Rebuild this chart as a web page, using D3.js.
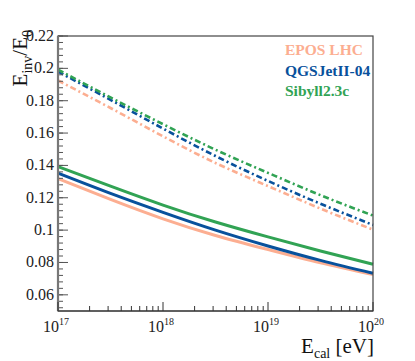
<!DOCTYPE html>
<html>
<head>
<meta charset="utf-8">
<script src="https://cdn.jsdelivr.net/npm/d3@7"></script>
<style>
  body { margin: 0; background: #fff; }
  svg text { font-family: "Liberation Serif", "DejaVu Serif", serif; }
</style>
</head>
<body>
<div id="chart"></div>
<script>
// log10(E_cal / eV) sample points
const logE = [17, 17.5, 18, 18.5, 19, 19.5, 20];

// E_inv/E_0, solid curves
const eposSolid    = [0.1318, 0.1190, 0.1070, 0.0967, 0.0880, 0.0798, 0.0725];
const qgsSolid     = [0.1352, 0.1227, 0.1110, 0.1000, 0.0902, 0.0813, 0.0733];
const sibyllSolid  = [0.1393, 0.1272, 0.1155, 0.1050, 0.0958, 0.0871, 0.0789];

// E_inv/E_0, dash-dot curves
const eposDash     = [0.1925, 0.1755, 0.1580, 0.1415, 0.1272, 0.1133, 0.1003];
const qgsDash      = [0.1980, 0.1805, 0.1628, 0.1458, 0.1304, 0.1163, 0.1032];
const sibyllDash   = [0.1992, 0.1820, 0.1655, 0.1497, 0.1354, 0.1216, 0.1090];

const models = ["EPOS LHC", "QGSJetII-04", "Sibyll2.3c"];
const colors = ["#fcae91", "#08519c", "#31a354"];

const yTicks = [0.06, 0.08, 0.1, 0.12, 0.14, 0.16, 0.18, 0.2, 0.22];

const W = 415, H = 361;
const m = { left: 58, right: 42, top: 36, bottom: 50 };
const FONT = "Liberation Serif";

const svg = d3.select("#chart").append("svg").attr("width", W).attr("height", H);

const x = d3.scaleLog().domain([1e17, 1e20]).range([m.left, W - m.right]);
const y = d3.scaleLinear().domain([0.05, 0.22]).range([H - m.bottom, m.top]);

const series = [
  { vals: eposDash, c: 0, dash: true },
  { vals: qgsDash, c: 1, dash: true },
  { vals: sibyllDash, c: 2, dash: true },
  { vals: eposSolid, c: 0, dash: false },
  { vals: qgsSolid, c: 1, dash: false },
  { vals: sibyllSolid, c: 2, dash: false }
];

const line = d3.line()
  .x(d => x(Math.pow(10, d[0])))
  .y(d => y(d[1]))
  .curve(d3.curveNatural);

const plot = svg.append("g");
series.forEach(s => {
  plot.append("path")
    .datum(logE.map((l, i) => [l, s.vals[i]]))
    .attr("d", line)
    .attr("fill", "none")
    .attr("stroke", colors[s.c])
    .attr("stroke-width", s.dash ? 2.6 : 3)
    .attr("stroke-dasharray", s.dash ? "6,3,2,3" : null);
});

// frame
const x0 = x.range()[0], x1 = x.range()[1], y0 = y.range()[0], y1 = y.range()[1];
svg.append("rect")
  .attr("x", x0).attr("y", y1)
  .attr("width", x1 - x0).attr("height", y0 - y1)
  .attr("fill", "none").attr("stroke", "#444").attr("stroke-width", 1.2);

// y axis ticks (inward)
const yAxis = svg.append("g");
const yMinor = d3.range(0.052, 0.2201, 0.004);
yMinor.forEach(v => {
  yAxis.append("line")
    .attr("x1", x0).attr("x2", x0 + 5)
    .attr("y1", y(v)).attr("y2", y(v))
    .attr("stroke", "#555").attr("stroke-width", 1);
});
yTicks.forEach(v => {
  yAxis.append("line")
    .attr("x1", x0).attr("x2", x0 + 10)
    .attr("y1", y(v)).attr("y2", y(v))
    .attr("stroke", "#555").attr("stroke-width", 1);
  yAxis.append("text")
    .attr("x", x0 - 4).attr("y", y(v) + 5)
    .attr("text-anchor", "end")
    .attr("font-family", FONT)
    .attr("font-size", 16)
    .attr("fill", "#222")
    .text(d3.format("~g")(v));
});
yAxis.append("line")
  .attr("x1", x0).attr("x2", x0).attr("y1", y0).attr("y2", y1)
  .attr("stroke", "#777").attr("stroke-width", 2.2);

// x axis ticks (inward)
const xAxis = svg.append("g");
[17, 18, 19].forEach(d => {
  for (let k = 2; k <= 9; k++) {
    const px = x(k * Math.pow(10, d));
    xAxis.append("line")
      .attr("x1", px).attr("x2", px).attr("y1", y0).attr("y2", y0 - 5)
      .attr("stroke", "#333").attr("stroke-width", 1);
  }
});
[17, 18, 19, 20].forEach(d => {
  const px = x(Math.pow(10, d));
  xAxis.append("line")
    .attr("x1", px).attr("x2", px).attr("y1", y0).attr("y2", y0 - 9)
    .attr("stroke", "#333").attr("stroke-width", 1);
  const t = xAxis.append("text")
    .attr("x", px - 2).attr("y", y0 + 21)
    .attr("text-anchor", "middle")
    .attr("font-family", FONT)
    .attr("font-size", 16)
    .attr("fill", "#222");
  t.append("tspan").text("10");
  t.append("tspan").attr("dy", -7).attr("font-size", 10).text(d);
});
xAxis.append("line")
  .attr("x1", x0).attr("x2", x1).attr("y1", y0).attr("y2", y0)
  .attr("stroke", "#333").attr("stroke-width", 1.2);

// axis titles
const xt = svg.append("text")
  .attr("x", x1 + 1).attr("y", 353)
  .attr("text-anchor", "end")
  .attr("font-family", FONT)
  .attr("font-size", 21)
  .attr("fill", "#111");
xt.append("tspan").text("E");
xt.append("tspan").attr("dy", 5).attr("font-size", 14).text("cal");
xt.append("tspan").attr("dy", -5).text(" [eV]");

// y title, rotated, ending at the top of the frame
const yt = svg.append("text")
  .attr("x", 27).attr("y", 30)
  .attr("transform", "rotate(-90 27 30)")
  .attr("text-anchor", "end")
  .attr("font-family", FONT)
  .attr("font-size", 21)
  .attr("fill", "#111");
yt.append("tspan").text("E");
yt.append("tspan").attr("dy", 5).attr("font-size", 14).text("inv");
yt.append("tspan").attr("dy", -5).text("/E");
yt.append("tspan").attr("dy", 5).attr("font-size", 14).text("0");

// legend
const legend = svg.append("g");
models.forEach((name, i) => {
  legend.append("text")
    .attr("x", 285).attr("y", 55 + i * 20.5)
    .attr("font-family", FONT)
    .attr("font-size", 15.5)
    .attr("font-weight", "bold")
    .attr("fill", colors[i])
    .text(name);
});
</script>
</body>
</html>
